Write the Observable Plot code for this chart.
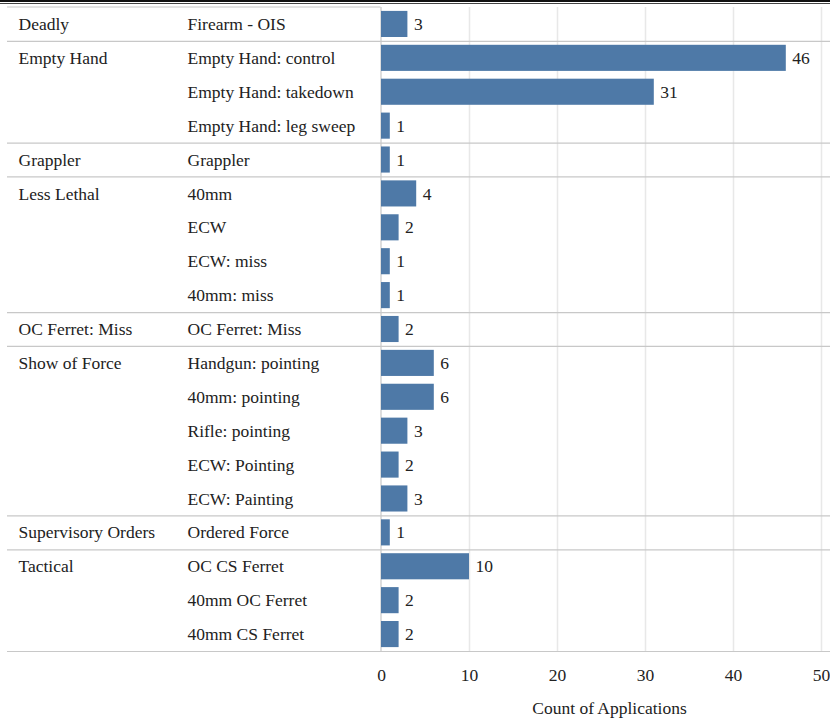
<!DOCTYPE html>
<html><head><meta charset="utf-8">
<script src="https://cdn.jsdelivr.net/npm/d3@7"></script>
<script src="https://cdn.jsdelivr.net/npm/@observablehq/plot@0.6"></script>
<style>
body{margin:0;background:#fff;}
#wrap{position:relative;width:830px;height:719px;overflow:hidden;}
.tl1{position:absolute;left:0;top:0;width:830px;height:2px;background:#111;z-index:2;}
.tl2{position:absolute;left:0;top:3px;width:830px;height:1px;background:#444;z-index:2;}
</style>
</head><body><div id="wrap"><div class="tl1"></div><div class="tl2"></div></div>
<script>
const categories = ["Deadly","Empty Hand","Empty Hand","Empty Hand","Grappler","Less Lethal","Less Lethal","Less Lethal","Less Lethal","OC Ferret: Miss","Show of Force","Show of Force","Show of Force","Show of Force","Show of Force","Supervisory Orders","Tactical","Tactical","Tactical"];
const subcategories = ["Firearm - OIS","Empty Hand: control","Empty Hand: takedown","Empty Hand: leg sweep","Grappler","40mm","ECW","ECW: miss","40mm: miss","OC Ferret: Miss","Handgun: pointing","40mm: pointing","Rifle: pointing","ECW: Pointing","ECW: Painting","Ordered Force","OC CS Ferret","40mm OC Ferret","40mm CS Ferret"];
const counts = [3,46,31,1,1,4,2,1,1,2,6,6,3,2,3,1,10,2,2];
const xTicks = [0,10,20,30,40,50];
const axisTitle = "Count of Applications";

const rows = subcategories.map((s, i) => ({
  i, cat: categories[i], sub: s, count: counts[i],
  first: i === 0 || categories[i] !== categories[i - 1]
}));
const n = rows.length;
const pad = 0.115;
const serif = "'Liberation Serif', 'DejaVu Serif', serif";
const fs = 17.5;

const plot = Plot.plot({
  width: 830,
  height: 719,
  marginTop: 7,
  marginBottom: 68,
  marginLeft: 7,
  marginRight: 0,
  style: {fontSize: fs + "px", background: "white", color: "#222"},
  x: {domain: [0, 50], range: [381, 821]},
  y: {domain: [0, n], range: [7, 651], axis: null},
  marks: [
    Plot.gridX(xTicks.filter(t => t > 0), {stroke: "#e8e8e8", strokeOpacity: 1, strokeWidth: 1.5}),
    Plot.ruleY(rows.filter(d => d.first && d.i > 0).map(d => d.i).concat([n]), {stroke: "#c8c8c8", strokeWidth: 1.2}),
    Plot.ruleX([0], {stroke: "#c8c8c8", strokeWidth: 1.2, dx: -0.5}),
    Plot.rectX(rows, {x1: 0, x2: "count", y1: d => d.i + pad, y2: d => d.i + 1 - pad, fill: "#4e79a7"}),
    Plot.text(rows, {x: "count", y: d => d.i + 0.5, text: d => String(d.count), textAnchor: "start", dx: 6, fill: "#222", fontSize: fs}),
    Plot.text(rows.filter(d => d.first), {y: d => d.i + 0.5, text: "cat", frameAnchor: "left", textAnchor: "start", dx: 11, fill: "#222", fontSize: fs}),
    Plot.text(rows, {y: d => d.i + 0.5, text: "sub", frameAnchor: "left", textAnchor: "start", dx: 180, fill: "#222", fontSize: fs}),
    Plot.axisX({ticks: xTicks, tickSize: 0, tickPadding: 17, label: null, fill: "#222", fontSize: fs}),
    Plot.text([axisTitle], {x: (xTicks[0] + xTicks[xTicks.length - 1]) / 2, frameAnchor: "bottom", dy: 62, dx: 8, fill: "#222", fontSize: fs})
  ]
});

// top border of the left (label) panel, from the scales
const sx = plot.scale("x"), sy = plot.scale("y");
d3.select(plot).append("line")
  .attr("x1", 7).attr("x2", sx.apply(0) - 0.5)
  .attr("y1", sy.apply(0)).attr("y2", sy.apply(0))
  .attr("stroke", "#c8c8c8").attr("stroke-width", 1.2);

// serif font everywhere
plot.style.fontFamily = serif;
d3.select(plot).selectAll("g, text").attr("font-family", null).style("font-family", serif);

document.getElementById("wrap").appendChild(plot);
plot.style.position = "absolute";
plot.style.left = "0";
plot.style.top = "0";
</script>
</body></html>
